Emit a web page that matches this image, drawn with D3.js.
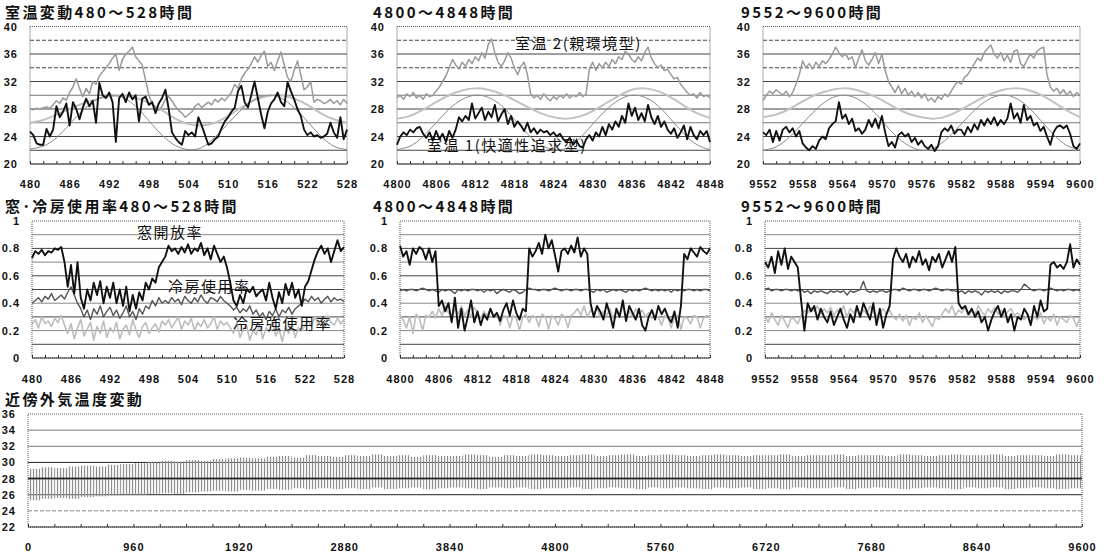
<!DOCTYPE html>
<html><head><meta charset="utf-8">
<script src="https://cdn.jsdelivr.net/npm/d3@7/dist/d3.min.js"></script>
<style>
body{margin:0;background:#fff;}
svg{display:block;}
.ttl{font-family:"Noto Sans CJK JP",sans-serif;font-weight:700;font-size:15px;letter-spacing:2.4px;fill:#111;}
.tk{font-family:"Liberation Sans",Arial,sans-serif;font-weight:700;font-size:11px;letter-spacing:1px;fill:#111;}
.lbl{font-family:"Noto Sans CJK JP",serif;font-size:15px;letter-spacing:1.5px;fill:#111;}
</style></head><body><script>
// tick labels
var tlTicks=[480,486,492,498,504,510,516,522,528];
var tmTicks=[4800,4806,4812,4818,4824,4830,4836,4842,4848];
var trTicks=[9552,9558,9564,9570,9576,9582,9588,9594,9600];
var outTicks=[0,960,1920,2880,3840,4800,5760,6720,7680,8640,9600];
var tempTicks=[20,24,28,32,36,40];
var rateTicks=[0,0.2,0.4,0.6,0.8,1];
var outYTicks=[22,24,26,28,30,32,34,36];

// room temperatures, every 0.5 h
var tlRoom1=[24.7,24.2,23.0,22.8,22.8,25.1,24.0,25.0,28.4,26.8,
27.6,28.8,25.6,29.0,28.0,26.5,28.2,29.5,28.4,29.2,
26.0,31.8,30.0,29.6,30.4,29.0,23.2,29.6,30.2,29.0,
30.4,29.4,30.0,26.2,29.5,29.8,28.6,29.0,27.4,28.8,
29.6,30.8,28.0,24.6,23.8,23.2,22.8,24.8,24.2,24.6,
24.0,26.8,25.6,24.2,22.8,23.0,23.6,24.0,25.2,26.2,
26.8,27.6,28.2,30.6,31.4,29.0,28.2,30.0,32.0,29.6,
27.2,25.2,27.6,28.8,29.4,30.4,29.0,28.4,31.9,30.6,
29.4,28.0,27.0,25.0,24.2,24.6,24.0,24.2,23.8,24.0,
24.4,26.0,24.6,23.8,26.8,23.6,25.0];
var tlRoom2=[28.0,27.9,28.1,28.0,28.2,28.3,28.1,28.6,29.2,28.8,
29.6,29.3,30.4,31.2,32.4,31.0,29.8,31.0,30.2,32.0,
31.6,32.8,33.4,34.0,34.6,35.4,36.0,33.6,35.2,36.0,
36.4,37.0,35.6,35.0,34.4,32.2,30.0,28.8,28.2,27.8,
28.4,29.4,29.8,29.2,28.4,27.8,27.4,26.8,27.2,27.6,
28.4,28.8,28.2,28.6,29.0,28.6,29.4,29.0,29.6,29.2,
29.8,30.4,31.6,31.0,32.4,33.2,33.8,34.6,35.6,34.8,
35.8,36.4,34.2,34.8,33.6,35.0,36.3,34.4,32.6,32.0,
33.6,35.0,33.0,30.8,31.2,32.0,29.0,29.4,29.2,28.8,
29.0,29.4,28.8,29.2,28.6,29.4,28.8];
var tmRoom1=[22.8,24.0,24.6,24.2,25.0,24.6,25.2,25.4,24.4,23.8,
24.6,23.4,24.8,23.6,24.4,23.2,24.8,23.8,25.0,26.8,
26.2,27.0,26.4,28.8,26.6,27.4,28.2,26.4,27.6,26.8,
28.6,26.2,27.2,28.0,25.8,27.0,25.4,26.2,25.6,24.8,
26.0,24.6,25.2,24.4,25.0,24.6,24.8,24.2,24.6,24.0,
24.4,23.6,23.2,23.8,22.8,23.4,22.6,22.4,23.6,24.2,
23.4,24.6,24.0,25.4,24.2,25.8,25.0,26.2,25.4,27.0,
26.0,28.8,27.0,28.2,26.4,27.4,26.2,28.6,26.8,25.8,
27.0,25.4,26.2,25.0,24.4,25.2,23.8,24.6,25.6,23.6,
25.4,24.2,23.6,24.8,24.2,24.8,23.2];
var tmRoom2=[29.6,30.0,29.4,30.2,29.8,30.4,29.6,30.0,29.4,30.2,
29.8,30.0,30.6,31.2,32.0,32.8,34.0,35.2,34.4,33.8,
34.8,34.2,35.2,34.6,35.6,35.0,36.2,35.4,37.4,38.2,
36.2,34.8,34.2,35.0,36.2,35.4,34.0,33.0,34.2,34.8,
33.0,30.2,29.6,30.0,29.4,30.2,29.6,29.2,29.8,29.4,
30.0,29.6,30.2,29.6,30.0,29.8,30.4,29.8,30.2,33.8,
34.8,33.6,34.6,34.0,34.8,34.2,35.2,34.6,35.6,35.2,
36.4,36.0,35.2,34.8,35.6,35.0,36.2,37.0,35.4,34.6,
34.0,34.4,33.6,33.8,33.0,32.4,32.6,31.6,31.0,30.4,
30.0,30.2,29.6,30.4,29.8,30.0,29.6];
var trRoom1=[24.6,24.2,25.0,23.2,24.8,23.4,25.0,25.4,24.6,25.2,
24.0,24.8,23.0,22.4,22.0,22.6,22.2,23.4,24.0,23.6,
25.2,25.8,26.2,29.0,26.6,27.2,25.8,26.6,24.8,25.2,
24.4,25.0,26.4,25.4,26.6,25.2,27.0,24.6,22.6,23.2,
22.4,24.2,24.6,24.0,24.4,23.2,23.8,22.8,23.4,22.6,
22.2,22.8,21.9,22.6,24.6,25.2,24.8,25.6,24.4,25.0,
25.0,24.2,25.4,24.6,25.8,25.0,26.4,25.6,26.6,25.8,
26.8,25.6,26.4,25.8,26.6,28.8,26.6,27.4,26.0,28.6,
26.4,27.0,25.6,26.0,24.8,25.4,24.0,22.8,24.6,25.4,
25.6,25.2,25.6,24.4,22.6,22.2,23.0];
var trRoom2=[29.2,30.0,30.6,30.2,30.8,30.4,30.0,30.6,29.8,30.4,
31.6,33.0,35.0,34.0,34.6,33.8,34.8,34.2,35.0,34.6,
35.2,36.0,37.0,36.2,35.6,36.0,35.2,35.6,34.0,35.4,
36.6,35.0,34.4,35.2,36.2,34.6,36.0,33.6,32.0,31.2,
30.4,31.4,30.2,31.0,30.0,30.6,29.8,30.4,29.6,30.2,
29.2,29.6,29.0,29.8,29.4,30.2,29.8,30.6,31.4,32.0,
31.6,32.6,33.0,33.8,34.6,35.4,35.0,36.2,36.8,37.3,
36.0,35.4,36.2,35.0,35.8,34.8,36.4,36.6,34.6,34.2,
35.2,36.0,35.4,36.4,36.8,37.0,33.0,31.2,30.6,31.0,
30.2,30.8,30.0,30.6,29.8,30.4,30.0];

// smooth reference curves, every 2 h
var tlRefA=[22.2,22.6,23.8,25.8,27.8,29.3,30.0,29.7,28.4,26.3,24.2,22.7,22.1,22.4,23.9,25.9,27.9,29.4,30.0,29.6,28.2,26.2,24.1,22.6,22.1];
var tlRefB=[26.0,26.4,27.2,28.0,28.8,29.4,29.8,29.9,29.6,28.9,27.8,26.6,25.8,25.6,26.0,27.0,28.2,29.3,29.9,30.0,29.5,28.6,27.4,26.5,26.0];
var tmRefA=[22.1,22.6,24.0,26.0,28.0,29.4,30.0,29.7,28.5,26.5,24.4,22.8,22.1,22.3,23.7,25.8,27.8,29.3,30.0,29.7,28.5,26.5,24.4,22.8,22.1];
var tmRefB=[26.6,27.0,27.9,29.0,30.0,30.7,31.0,30.8,30.2,29.3,28.3,27.4,26.8,26.6,26.9,27.7,28.8,29.9,30.8,31.0,30.6,29.7,28.5,27.4,26.7];
var trRefA=[22.0,22.5,23.9,25.9,27.9,29.4,30.0,29.6,28.3,26.3,24.2,22.7,22.0,22.4,23.8,25.8,27.8,29.3,30.0,29.7,28.4,26.4,24.3,22.7,22.1];
var trRefB=[26.8,27.2,28.0,29.1,30.1,30.7,31.0,30.8,30.2,29.3,28.2,27.3,26.8,26.6,27.0,27.9,29.0,30.0,30.7,31.0,30.8,30.1,29.0,27.8,26.8];

// window / cooling rates, every 0.5 h
var mlWindow=[0.73,0.78,0.76,0.79,0.75,0.78,0.77,0.80,0.79,0.81,
0.70,0.52,0.68,0.47,0.70,0.44,0.36,0.50,0.42,0.55,
0.46,0.56,0.40,0.52,0.44,0.55,0.40,0.50,0.38,0.52,
0.34,0.46,0.36,0.48,0.42,0.55,0.50,0.58,0.55,0.66,
0.70,0.74,0.82,0.78,0.80,0.76,0.81,0.77,0.83,0.76,
0.80,0.78,0.84,0.75,0.80,0.72,0.82,0.76,0.70,0.74,
0.66,0.55,0.42,0.38,0.46,0.40,0.50,0.48,0.52,0.45,
0.48,0.50,0.42,0.55,0.44,0.36,0.48,0.40,0.54,0.46,
0.55,0.44,0.50,0.38,0.52,0.56,0.64,0.72,0.78,0.82,
0.76,0.80,0.70,0.78,0.86,0.78,0.81];
var mlCool=[0.40,0.42,0.44,0.41,0.45,0.43,0.47,0.42,0.44,0.46,
0.43,0.48,0.52,0.46,0.40,0.36,0.30,0.35,0.28,0.36,
0.32,0.38,0.30,0.34,0.37,0.31,0.35,0.29,0.33,0.38,
0.30,0.34,0.28,0.36,0.32,0.38,0.36,0.42,0.38,0.44,
0.40,0.42,0.40,0.44,0.41,0.43,0.39,0.45,0.42,0.40,
0.44,0.41,0.46,0.42,0.40,0.44,0.43,0.41,0.45,0.42,
0.40,0.38,0.35,0.37,0.33,0.36,0.34,0.38,0.32,0.35,
0.30,0.33,0.28,0.34,0.31,0.36,0.30,0.35,0.33,0.37,
0.32,0.36,0.38,0.40,0.43,0.41,0.45,0.42,0.44,0.40,
0.43,0.45,0.41,0.44,0.42,0.43,0.41];
var mlStrong=[0.24,0.28,0.22,0.30,0.25,0.27,0.23,0.29,0.26,0.31,
0.24,0.18,0.25,0.14,0.22,0.28,0.16,0.21,0.26,0.13,
0.23,0.18,0.27,0.15,0.22,0.19,0.26,0.14,0.21,0.24,
0.17,0.28,0.20,0.15,0.23,0.26,0.18,0.22,0.25,0.19,
0.27,0.24,0.28,0.22,0.26,0.30,0.21,0.27,0.24,0.29,
0.20,0.26,0.23,0.28,0.22,0.25,0.30,0.21,0.27,0.24,
0.26,0.22,0.18,0.26,0.15,0.21,0.24,0.13,0.20,0.17,
0.25,0.14,0.22,0.19,0.27,0.16,0.21,0.12,0.23,0.18,
0.25,0.15,0.22,0.20,0.24,0.27,0.23,0.30,0.25,0.28,
0.22,0.31,0.26,0.24,0.29,0.25,0.28];
var mmWindow=[0.82,0.74,0.78,0.68,0.80,0.76,0.81,0.79,0.72,0.80,
0.70,0.78,0.38,0.42,0.34,0.40,0.26,0.44,0.22,0.36,
0.20,0.30,0.42,0.26,0.34,0.24,0.32,0.28,0.36,0.30,
0.33,0.27,0.35,0.40,0.31,0.42,0.33,0.28,0.36,0.34,
0.80,0.74,0.78,0.84,0.76,0.90,0.80,0.86,0.75,0.63,
0.78,0.80,0.76,0.82,0.77,0.88,0.74,0.80,0.76,0.40,
0.30,0.38,0.34,0.28,0.40,0.32,0.22,0.36,0.30,0.42,
0.27,0.38,0.33,0.28,0.36,0.24,0.20,0.30,0.35,0.28,
0.38,0.32,0.36,0.30,0.26,0.34,0.22,0.38,0.76,0.72,
0.80,0.77,0.74,0.81,0.78,0.76,0.80];
var mmCool=[0.49,0.50,0.49,0.50,0.50,0.49,0.50,0.51,0.50,0.49,
0.50,0.49,0.48,0.50,0.49,0.50,0.49,0.47,0.50,0.49,
0.50,0.49,0.50,0.50,0.49,0.50,0.48,0.50,0.49,0.50,
0.47,0.49,0.50,0.49,0.48,0.50,0.49,0.47,0.48,0.50,
0.51,0.50,0.50,0.49,0.50,0.50,0.49,0.50,0.51,0.50,
0.49,0.50,0.50,0.49,0.50,0.50,0.49,0.50,0.50,0.49,
0.48,0.50,0.49,0.50,0.48,0.49,0.50,0.49,0.50,0.49,
0.48,0.50,0.49,0.50,0.49,0.50,0.51,0.50,0.49,0.50,
0.49,0.50,0.49,0.50,0.48,0.50,0.49,0.50,0.49,0.50,
0.50,0.49,0.50,0.49,0.50,0.50,0.49];
var mmStrong=[0.31,0.28,0.22,0.30,0.18,0.32,0.29,0.20,0.31,0.30,
0.34,0.29,0.36,0.31,0.38,0.33,0.30,0.36,0.32,0.38,
0.31,0.35,0.30,0.37,0.33,0.29,0.34,0.31,0.36,0.30,
0.33,0.24,0.31,0.30,0.22,0.31,0.29,0.20,0.30,0.32,
0.26,0.31,0.30,0.23,0.32,0.30,0.21,0.31,0.29,0.24,
0.32,0.30,0.22,0.31,0.33,0.36,0.31,0.38,0.30,0.35,
0.32,0.37,0.30,0.34,0.31,0.36,0.29,0.35,0.32,0.38,
0.31,0.34,0.30,0.36,0.32,0.35,0.30,0.33,0.29,0.31,
0.30,0.24,0.31,0.29,0.22,0.30,0.31,0.21,0.30,0.29,
0.25,0.31,0.30,0.22,0.29,0.31,0.30];
var mrWindow=[0.70,0.66,0.74,0.62,0.78,0.68,0.80,0.65,0.74,0.70,
0.66,0.42,0.20,0.40,0.34,0.38,0.28,0.36,0.30,0.26,
0.34,0.24,0.30,0.36,0.28,0.22,0.32,0.26,0.38,0.30,
0.40,0.34,0.28,0.40,0.24,0.36,0.22,0.32,0.38,0.72,
0.80,0.74,0.70,0.76,0.66,0.74,0.70,0.78,0.68,0.72,
0.64,0.74,0.70,0.76,0.66,0.72,0.78,0.70,0.81,0.40,
0.36,0.38,0.32,0.36,0.30,0.34,0.26,0.30,0.20,0.28,
0.34,0.38,0.30,0.36,0.26,0.32,0.20,0.30,0.28,0.36,
0.32,0.24,0.38,0.30,0.42,0.34,0.36,0.68,0.70,0.66,
0.68,0.65,0.70,0.83,0.66,0.72,0.68];
var mrCool=[0.50,0.51,0.49,0.50,0.50,0.49,0.50,0.50,0.49,0.50,
0.49,0.50,0.48,0.49,0.47,0.49,0.48,0.49,0.48,0.47,
0.49,0.48,0.49,0.48,0.49,0.46,0.49,0.48,0.49,0.50,
0.56,0.49,0.48,0.49,0.48,0.49,0.49,0.48,0.49,0.50,
0.50,0.49,0.51,0.50,0.49,0.50,0.50,0.49,0.50,0.50,
0.49,0.50,0.51,0.50,0.49,0.50,0.50,0.49,0.49,0.48,
0.49,0.47,0.49,0.48,0.49,0.48,0.46,0.49,0.48,0.49,
0.48,0.49,0.47,0.49,0.48,0.49,0.49,0.48,0.50,0.54,
0.52,0.50,0.49,0.50,0.50,0.49,0.50,0.51,0.50,0.49,
0.50,0.49,0.50,0.50,0.49,0.50,0.49];
var mrStrong=[0.30,0.26,0.33,0.28,0.24,0.31,0.27,0.22,0.30,0.28,
0.25,0.31,0.35,0.33,0.37,0.34,0.38,0.32,0.36,0.33,
0.37,0.31,0.35,0.33,0.38,0.30,0.36,0.33,0.37,0.31,
0.35,0.32,0.38,0.34,0.30,0.33,0.36,0.32,0.35,0.30,
0.28,0.32,0.27,0.31,0.24,0.30,0.28,0.33,0.26,0.31,
0.27,0.23,0.30,0.28,0.32,0.36,0.33,0.38,0.31,0.35,
0.33,0.37,0.30,0.35,0.32,0.38,0.34,0.31,0.36,0.33,
0.37,0.32,0.35,0.30,0.34,0.36,0.31,0.33,0.30,0.28,
0.31,0.26,0.30,0.28,0.33,0.25,0.30,0.27,0.32,0.24,
0.30,0.28,0.26,0.31,0.29,0.23,0.30];

// outdoor temperature: daily max / min per 120 h block
var outMax=[29.2,29.4,29.3,29.5,29.6,29.5,29.7,29.8,
29.9,30.0,30.2,30.1,30.3,30.2,30.4,30.5,
30.6,30.5,30.7,30.8,30.6,30.9,30.8,30.7,
30.9,30.8,31.0,30.8,30.9,30.7,30.9,30.8,
30.8,31.0,30.9,30.7,30.9,30.8,31.0,30.9,
30.8,30.9,31.0,30.8,30.9,31.0,30.8,30.9,
31.0,30.9,30.8,30.9,31.0,30.9,30.8,30.9,
30.9,31.0,30.8,30.9,30.9,31.0,30.8,30.9,
30.9,30.8,31.0,30.9,30.8,30.9,31.0,30.9,
30.9,31.0,30.8,30.9,30.9,30.8,31.0,30.9];
var outMin=[25.3,25.5,25.6,25.5,25.7,25.8,25.9,26.0,
26.0,26.1,26.2,26.1,26.3,26.4,26.5,26.4,
26.6,26.5,26.7,26.6,26.8,26.7,26.8,26.7,
26.8,26.7,26.9,26.7,26.8,26.9,26.7,26.8,
26.9,26.8,26.7,26.9,26.8,26.9,26.7,26.8,
26.8,26.9,26.7,26.8,26.9,26.8,26.7,26.9,
26.8,26.9,26.8,26.7,26.9,26.8,26.9,26.7,
26.8,26.7,26.9,26.8,26.8,26.9,26.7,26.8,
26.9,26.8,26.7,26.8,26.9,26.8,26.7,26.9,
26.8,26.9,26.7,26.8,26.9,26.8,26.7,26.8];

var svg=d3.select("body").append("svg").attr("width",1104).attr("height",556);

var defs=svg.append("defs");
var pat=defs.append("pattern").attr("id","hatch").attr("patternUnits","userSpaceOnUse")
  .attr("width",3).attr("height",6);
pat.append("rect").attr("x",0).attr("y",0).attr("width",1).attr("height",6).attr("fill","#8e8e8e");
pat.append("rect").attr("x",1.6).attr("y",0).attr("width",0.6).attr("height",6).attr("fill","#d4d4d4");

function panel(o){
  var x=d3.scaleLinear().domain(o.xd).range([o.l,o.r]);
  var y=d3.scaleLinear().domain(o.yd).range([o.b,o.t]);
  var g=svg.append("g");
  g.append("text").attr("class","ttl").attr("x",o.tx).attr("y",o.ty).text(o.title);
  g.selectAll("line.grid").data(o.grid).join("line").attr("class","grid")
    .attr("x1",o.l).attr("x2",o.r).attr("y1",function(d){return y(d);}).attr("y2",function(d){return y(d);})
    .attr("stroke",function(d){return o.gcol(d);})
    .attr("stroke-width",function(d){return o.gw?o.gw(d):1;})
    .attr("stroke-dasharray",function(d){return o.gdash&&o.gdash(d)?"4,2":null;});
  g.append("rect").attr("x",o.l).attr("y",o.t).attr("width",o.r-o.l).attr("height",o.b-o.t)
    .attr("fill","none").attr("stroke","#555").attr("stroke-dasharray","1,1");
  g.append("line").attr("x1",o.l).attr("x2",o.r).attr("y1",o.b).attr("y2",o.b).attr("stroke","#333");
  g.append("g").attr("transform","translate(0,"+o.b+")")
    .call(d3.axisTop(x).tickValues(o.minor).tickSize(3).tickFormat(""))
    .call(function(a){a.select(".domain").remove();a.selectAll("line").attr("stroke","#333");});
  g.append("g").attr("transform","translate(0,"+o.b+")")
    .call(d3.axisBottom(x).tickValues(o.ticks).tickSize(0).tickPadding(o.pad).tickFormat(d3.format("d")))
    .call(function(a){a.select(".domain").remove();a.selectAll("text").attr("class","tk");});
  g.append("g").attr("transform","translate("+o.l+",0)")
    .call(d3.axisLeft(y).tickValues(o.yticks).tickSize(0).tickPadding(12).tickFormat(o.yfmt))
    .call(function(a){a.select(".domain").remove();a.selectAll("text").attr("class","tk");});
  return {x:x,y:y,g:g};
}

function halfHours(start,n){return d3.range(n).map(function(i){return start+i*0.5;});}
function twoHours(start,n){return d3.range(n).map(function(i){return start+i*2;});}

function series(p,xs,vals,stroke,width,curve,dash){
  var line=d3.line().x(function(d,i){return p.x(xs[i]);}).y(function(d){return p.y(d);})
    .curve(curve||d3.curveLinear);
  p.g.append("path").attr("d",line(vals)).attr("fill","none").attr("stroke",stroke)
    .attr("stroke-width",width).attr("stroke-linejoin","round").attr("stroke-dasharray",dash||null);
}

var tempGrid=[22,24,26,28,30,32,34,36,38];
var rateGrid=[0.1,0.2,0.3,0.4,0.5,0.6,0.7,0.8,0.9];

var topPanels=[
  {title:"室温変動480～528時間",tx:5,l:30,r:347,start:480,ticks:tlTicks,r1:tlRoom1,r2:tlRoom2,a:tlRefA,b:tlRefB},
  {title:"4800～4848時間",tx:373,l:397,r:710,start:4800,ticks:tmTicks,r1:tmRoom1,r2:tmRoom2,a:tmRefA,b:tmRefB},
  {title:"9552～9600時間",tx:741,l:763,r:1080,start:9552,ticks:trTicks,r1:trRoom1,r2:trRoom2,a:trRefA,b:trRefB}
];
topPanels.forEach(function(c){
  var p=panel({title:c.title,tx:c.tx,ty:17.5,l:c.l,r:c.r,t:26.5,b:164,xd:[c.start,c.start+48],yd:[20,40],
    grid:tempGrid,gcol:function(d){return (d===30||d===26)?"#777":"#444";},
    gdash:function(d){return d===38||d===34;},
    minor:twoHours(c.start,25),ticks:c.ticks,pad:16,yticks:tempTicks,yfmt:d3.format("d")});
  series(p,twoHours(c.start,25),c.b,"#c2c2c2",2,d3.curveNatural);
  series(p,twoHours(c.start,25),c.a,"#8a8a8a",1,d3.curveNatural);
  series(p,halfHours(c.start,97),c.r2,"#9a9a9a",1.5);
  series(p,halfHours(c.start,97),c.r1,"#111",1.9);
  c.p=p;
});
topPanels[1].p.g.append("text").attr("class","lbl").attr("x",515).attr("y",49).text("室温 2(親環境型)");
topPanels[1].p.g.append("text").attr("class","lbl").attr("x",427).attr("y",151).text("室温 1(快適性追求型)");

var midPanels=[
  {title:"窓･冷房使用率480～528時間",tx:5,l:32,r:344,start:480,ticks:tlTicks,w:mlWindow,c:mlCool,s:mlStrong},
  {title:"4800～4848時間",tx:373,l:400,r:710,start:4800,ticks:tmTicks,w:mmWindow,c:mmCool,s:mmStrong},
  {title:"9552～9600時間",tx:741,l:765,r:1080,start:9552,ticks:trTicks,w:mrWindow,c:mrCool,s:mrStrong}
];
midPanels.forEach(function(c){
  var p=panel({title:c.title,tx:c.tx,ty:212,l:c.l,r:c.r,t:221,b:358,xd:[c.start,c.start+48],yd:[0,1],
    grid:rateGrid,gcol:function(d){return [0.2,0.4,0.7,0.9].indexOf(d)>=0?"#888":"#444";},
    minor:twoHours(c.start,25),ticks:c.ticks,pad:17,yticks:rateTicks,yfmt:function(d){return d===0||d===1?d:d.toFixed(1);}});
  series(p,halfHours(c.start,97),c.s,"#bdbdbd",1.6);
  series(p,halfHours(c.start,97),c.c,"#555",1.4);
  series(p,halfHours(c.start,97),c.w,"#111",1.9);
  c.p=p;
});
var ml=midPanels[0].p.g;
ml.append("text").attr("class","lbl").attr("x",137).attr("y",238).text("窓開放率");
ml.append("text").attr("class","lbl").attr("x",168).attr("y",292).attr("fill","#333").text("冷房使用率");
ml.append("text").attr("class","lbl").attr("x",233).attr("y",329).text("冷房強使用率");

// outdoor temperature panel
var op=panel({title:"近傍外気温度変動",tx:5,ty:405,l:28,r:1082,t:414,b:527,xd:[0,9600],yd:[22,36],
  grid:[24,26,28,30,32,34],
  gcol:function(d){return d===24?"#888":(d>=32?"#777":"#222");},
  gw:function(d){return d===28?1.6:1;},
  gdash:function(d){return d===24;},
  minor:d3.range(0,9601,240),ticks:outTicks,pad:16,yticks:outYTicks,yfmt:d3.format("d")});
var blocks=outMax.map(function(v,i){return {h:i*120,max:v,min:outMin[i]};});
op.g.selectAll("rect.band").data(blocks).join("rect").attr("class","band")
  .attr("x",function(d){return op.x(d.h);})
  .attr("width",function(d){return op.x(d.h+120)-op.x(d.h);})
  .attr("y",function(d){return op.y(d.max);})
  .attr("height",function(d){return op.y(d.min)-op.y(d.max);})
  .attr("fill","url(#hatch)");
op.g.append("line").attr("x1",op.x(0)).attr("x2",op.x(9600)).attr("y1",op.y(28)).attr("y2",op.y(28))
  .attr("stroke","#222").attr("stroke-width",1.4);
</script></body></html>
